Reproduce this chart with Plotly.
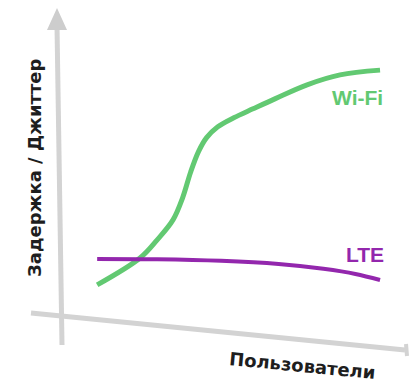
import plotly.graph_objects as go

# Data (arbitrary units: users 0..100, latency 0..100)
wifi_x = [11.3, 24.7, 30.0, 35.0, 38.0, 40.5, 43.0, 45.5, 49.0, 54.0, 60.0, 67.0, 76.9, 87.2, 99.7]
wifi_y = [18.8, 27.2, 32.8, 39.1, 46.0, 54.0, 60.5, 64.8, 68.2, 71.0, 73.8, 77.0, 81.3, 84.4, 85.9]
lte_x = [11.3, 30.0, 50.0, 68.0, 82.0, 92.0, 99.7]
lte_y = [26.9, 26.8, 26.3, 25.3, 23.8, 22.2, 20.3]
series_names = ["Wi-Fi", "LTE"]
x_title = "Пользователи"
y_title = "Задержка / Джиттер"

W, H = 411, 383
X0, Y0, S = 61, 345, 3.2  # pixel position of origin and px per unit


def dx(px):
    return (px - X0) / S


def dy(py):
    return (Y0 - py) / S


GREEN = "#62c972"
PURPLE = "#9327ad"
AXIS = "#d3d3d3"

fig = go.Figure()
fig.add_trace(go.Scatter(x=wifi_x, y=wifi_y, mode="lines", name=series_names[0],
                         line=dict(color=GREEN, width=5, shape="spline", smoothing=1.0)))
fig.add_trace(go.Scatter(x=lte_x, y=lte_y, mode="lines", name=series_names[1],
                         line=dict(color=PURPLE, width=4, shape="spline", smoothing=1.0)))

shapes = []
shapes.append(dict(type="line", xref="x", yref="y", x0=dx(57), y0=dy(26), x1=dx(62), y1=dy(345),
                   line=dict(color=AXIS, width=5), layer="below"))
shapes.append(dict(type="path", xref="x", yref="y",
                   path=f"M {dx(57)} {dy(8)} L {dx(47)} {dy(30)} L {dx(67)} {dy(30)} Z",
                   fillcolor="#cdcdcd", line=dict(width=0), layer="below"))
shapes.append(dict(type="line", xref="x", yref="y", x0=dx(31), y0=dy(313), x1=dx(405), y1=dy(350),
                   line=dict(color=AXIS, width=5), layer="below"))
shapes.append(dict(type="line", xref="x", yref="y", x0=dx(406), y0=dy(344), x1=dx(407), y1=dy(356),
                   line=dict(color=AXIS, width=4), layer="below"))

LABEL_FONT = "Liberation Sans, sans-serif"
TITLE_FONT = "DejaVu Sans"
annotations = [
    dict(x=dx(357), y=dy(97), xref="x", yref="y", text="<b>" + series_names[0] + "</b>", showarrow=False,
         font=dict(family=LABEL_FONT, size=21, color=GREEN)),
    dict(x=dx(365), y=dy(254), xref="x", yref="y", text="<b>" + series_names[1] + "</b>", showarrow=False,
         font=dict(family=LABEL_FONT, size=21, color=PURPLE)),
    dict(x=dx(34), y=dy(168), xref="x", yref="y", text="<b>" + y_title + "</b>", showarrow=False,
         textangle=-90, font=dict(family=TITLE_FONT, size=18, color="#1e1e1e")),
    dict(x=dx(302), y=dy(365), xref="x", yref="y", text="<b>" + x_title + "</b>", showarrow=False,
         textangle=5.5, font=dict(family=TITLE_FONT, size=18, color="#1e1e1e")),
]

fig.update_layout(
    width=W, height=H, margin=dict(l=0, r=0, t=0, b=0),
    paper_bgcolor="white", plot_bgcolor="white", showlegend=False,
    xaxis=dict(range=[dx(0), dx(W)], visible=False, fixedrange=True),
    yaxis=dict(range=[dy(H), dy(0)], visible=False, fixedrange=True),
    shapes=shapes, annotations=annotations,
)

fig.write_html("out.html", config={"displayModeBar": False},
               post_script="document.body.style.margin='0';document.body.style.overflow='hidden';")
